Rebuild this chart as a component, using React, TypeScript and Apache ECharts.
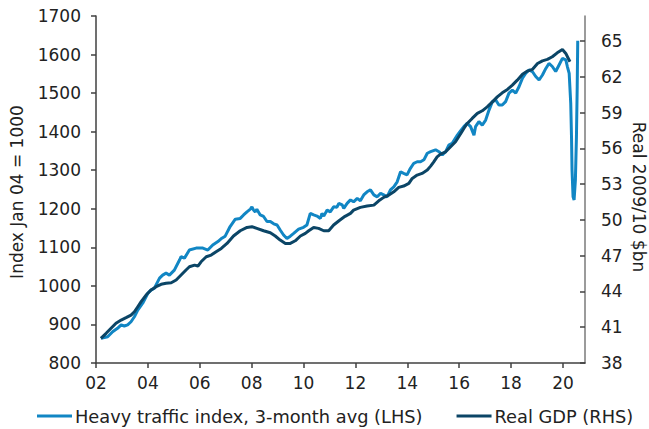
import { useEffect, useRef } from "react";
import * as echarts from "echarts";

const trafficYears = [
  2002.19, 2002.45, 2002.64, 2002.83, 2002.97, 2003.09, 2003.22, 2003.35, 2003.48, 2003.61, 2003.8,
  2004.0, 2004.12, 2004.25, 2004.38, 2004.45, 2004.57, 2004.7, 2004.83, 2005.02, 2005.22, 2005.28,
  2005.41, 2005.6, 2005.86, 2006.12, 2006.31, 2006.5, 2006.7, 2006.82, 2006.98, 2007.17, 2007.37,
  2007.56, 2007.69, 2007.82, 2007.95, 2008.01, 2008.07, 2008.14, 2008.2, 2008.33, 2008.46, 2008.59,
  2008.72, 2008.85, 2008.98, 2009.1, 2009.23, 2009.36, 2009.49, 2009.62, 2009.81, 2010.0, 2010.13,
  2010.26, 2010.39, 2010.52, 2010.65, 2010.71, 2010.78, 2010.91, 2011.03, 2011.16, 2011.29, 2011.36,
  2011.49, 2011.55, 2011.68, 2011.81, 2011.93, 2012.07, 2012.19, 2012.32, 2012.45, 2012.58, 2012.71,
  2012.84, 2012.97, 2013.09, 2013.22, 2013.35, 2013.48, 2013.61, 2013.74, 2013.86, 2013.99, 2014.12,
  2014.25, 2014.38, 2014.51, 2014.64, 2014.77, 2014.9, 2015.09, 2015.22, 2015.35, 2015.48, 2015.6,
  2015.73, 2015.93, 2016.05, 2016.18, 2016.31, 2016.44, 2016.57, 2016.63, 2016.76, 2016.89, 2017.02,
  2017.15, 2017.28, 2017.41, 2017.53, 2017.66, 2017.79, 2017.92, 2018.05, 2018.18, 2018.31, 2018.44,
  2018.56, 2018.69, 2018.82, 2018.95, 2019.08, 2019.21, 2019.34, 2019.46, 2019.59, 2019.72, 2019.85,
  2019.98, 2020.11, 2020.17, 2020.24, 2020.3, 2020.33, 2020.35, 2020.39, 2020.43, 2020.48, 2020.52,
  2020.55, 2020.57,
];
const trafficValues = [
  864, 868, 881, 890, 899, 896, 899, 907, 920, 937, 955,
  981, 989, 994, 1011, 1020, 1028, 1033, 1028, 1041, 1067, 1076,
  1072, 1093, 1098, 1098, 1093, 1106, 1115, 1122, 1129, 1154, 1173,
  1175, 1184, 1192, 1199, 1205, 1197, 1192, 1199, 1184, 1180, 1167,
  1167, 1161, 1158, 1145, 1132, 1123, 1129, 1136, 1147, 1152, 1158,
  1188, 1184, 1181, 1175, 1188, 1181, 1197, 1192, 1205, 1204, 1214,
  1210, 1201, 1214, 1223, 1218, 1227, 1221, 1236, 1244, 1249, 1236,
  1231, 1240, 1236, 1231, 1249, 1257, 1270, 1296, 1292, 1288, 1305,
  1318, 1322, 1322, 1327, 1344, 1348, 1353, 1348, 1340, 1348, 1365,
  1370, 1391, 1402, 1413, 1422, 1413, 1391, 1413, 1426, 1417, 1430,
  1456, 1478, 1482, 1469, 1469, 1478, 1500, 1508, 1500, 1517, 1539,
  1551, 1560, 1556, 1543, 1534, 1547, 1564, 1577, 1569, 1556, 1573,
  1590, 1586, 1569, 1551, 1474, 1387, 1301, 1231, 1223, 1275, 1387,
  1517, 1636,
];

const gdpYears = [
  2002.19, 2002.39, 2002.58, 2002.77, 2002.97, 2003.16, 2003.35, 2003.48, 2003.61, 2003.74, 2003.93,
  2004.12, 2004.32, 2004.51, 2004.7, 2004.9, 2005.09, 2005.28, 2005.47, 2005.6, 2005.8, 2005.93,
  2006.05, 2006.25, 2006.44, 2006.63, 2006.83, 2007.05, 2007.3, 2007.56, 2007.82, 2008.01, 2008.2,
  2008.46, 2008.72, 2008.91, 2009.1, 2009.3, 2009.49, 2009.68, 2009.88, 2010.07, 2010.2, 2010.39,
  2010.58, 2010.78, 2010.97, 2011.16, 2011.38, 2011.6, 2011.81, 2011.93, 2012.19, 2012.45, 2012.71,
  2012.9, 2013.09, 2013.29, 2013.48, 2013.67, 2013.86, 2014.06, 2014.19, 2014.38, 2014.57, 2014.77,
  2014.9, 2015.02, 2015.15, 2015.28, 2015.48, 2015.67, 2015.86, 2016.05, 2016.18, 2016.31, 2016.5,
  2016.7, 2016.89, 2017.08, 2017.28, 2017.47, 2017.66, 2017.86, 2018.05, 2018.24, 2018.44, 2018.63,
  2018.82, 2019.02, 2019.21, 2019.4, 2019.59, 2019.78, 2019.98, 2020.11, 2020.27,
];
const gdpValues = [
  40.07, 40.49, 40.91, 41.33, 41.6, 41.8, 42.02, 42.3, 42.72, 43.14, 43.7,
  44.12, 44.4, 44.6, 44.68, 44.73, 44.96, 45.38, 45.8, 46.07, 46.21, 46.13,
  46.49, 46.91, 47.05, 47.33, 47.61, 48.03, 48.65, 49.09, 49.37, 49.43, 49.29,
  49.09, 48.92, 48.65, 48.31, 48.03, 48.03, 48.25, 48.65, 48.87, 49.09, 49.37,
  49.29, 49.09, 49.1, 49.57, 49.95, 50.3, 50.55, 50.82, 51.05, 51.16, 51.24,
  51.6, 51.89, 52.08, 52.36, 52.73, 52.84, 53.06, 53.48, 53.76, 53.9, 54.18,
  54.51, 54.87, 55.29, 55.52, 55.71, 56.13, 56.55, 57.2, 57.67, 58.09, 58.51,
  58.93, 59.15, 59.48, 59.9, 60.32, 60.66, 60.94, 61.3, 61.72, 62.22, 62.48,
  62.62, 63.12, 63.34, 63.46, 63.68, 64.01, 64.29, 63.96, 63.26,
];

const xTickYears = [2002, 2004, 2006, 2008, 2010, 2012, 2014, 2016, 2018, 2020];
const leftTicks = [800, 900, 1000, 1100, 1200, 1300, 1400, 1500, 1600, 1700];
const rightTicks = [38, 41, 44, 47, 50, 53, 56, 59, 62, 65];

const trafficName = "Heavy traffic index, 3-month avg (LHS)";
const gdpName = "Real GDP (RHS)";

const FONT = "DejaVu Sans, Verdana, sans-serif";
const TEXT = "#222222";
const LIGHT = "#1186c4";
const DARK = "#0b4566";

export default function App() {
  const ref = useRef<HTMLDivElement>(null);
  useEffect(() => {
    if (!ref.current) return;
    const chart = echarts.init(ref.current, undefined, { renderer: "svg" });
    const trafficData = trafficYears.map((y, i) => [y, trafficValues[i]]);
    const gdpData = gdpYears.map((y, i) => [y, gdpValues[i]]);
    chart.setOption({
      animation: false,
      backgroundColor: "#ffffff",
      textStyle: { fontFamily: FONT },
      grid: { left: 96, right: 64, top: 16, bottom: 66, containLabel: false },
      legend: {
        left: 37,
        top: 407,
        padding: 0,
        icon: "rect",
        itemWidth: 35,
        itemHeight: 3,
        itemGap: 34,
        textStyle: { fontFamily: FONT, fontSize: 17.8, color: TEXT, padding: [0, 0, 0, -2] },
        data: [trafficName, gdpName],
      },
      xAxis: {
        type: "value",
        min: 2002,
        max: 2020.85,
        interval: 2,
        splitLine: { show: false },
        axisLine: { show: true, onZero: false, lineStyle: { color: "#404040", width: 1.5 } },
        axisTick: { show: true, length: 5, customValues: xTickYears, lineStyle: { color: "#404040", width: 1.5 } },
        axisLabel: {
          customValues: xTickYears,
          margin: 11,
          fontFamily: FONT,
          fontSize: 17,
          color: TEXT,
          formatter: (v: number) => String(Math.round(v) % 100).padStart(2, "0"),
        },
      },
      yAxis: [
        {
          type: "value",
          min: 800,
          max: 1700,
          interval: 100,
          position: "left",
          splitLine: { show: false },
          axisLine: { show: true, lineStyle: { color: "#404040", width: 1.5 } },
          axisTick: { show: true, length: 5, customValues: leftTicks, lineStyle: { color: "#404040", width: 1.5 } },
          axisLabel: {
            customValues: leftTicks,
            margin: 15,
            fontFamily: FONT,
            fontSize: 17,
            color: TEXT,
            formatter: (v: number) => String(Math.round(v)),
          },
        },
        {
          type: "value",
          min: 38,
          max: 67.1,
          interval: 3,
          position: "right",
          splitLine: { show: false },
          axisLine: { show: true, lineStyle: { color: "#7a7a7a", width: 1.5 } },
          axisTick: { show: true, inside: true, length: 5, customValues: rightTicks, lineStyle: { color: "#404040", width: 1.5 } },
          axisLabel: {
            customValues: rightTicks,
            margin: 16,
            fontFamily: FONT,
            fontSize: 17,
            color: TEXT,
            formatter: (v: number) => String(Math.round(v)),
          },
        },
      ],
      graphic: [
        {
          type: "text",
          x: 17,
          y: 192,
          rotation: Math.PI / 2,
          style: { text: "Index Jan 04 = 1000", fontFamily: FONT, fontSize: 17, fill: TEXT, align: "center", verticalAlign: "middle" },
        },
        {
          type: "text",
          x: 639,
          y: 197,
          rotation: -Math.PI / 2,
          style: { text: "Real 2009/10 $bn", fontFamily: FONT, fontSize: 17, fill: TEXT, align: "center", verticalAlign: "middle" },
        },
      ],
      series: [
        {
          name: trafficName,
          type: "line",
          yAxisIndex: 0,
          data: trafficData,
          showSymbol: false,
          symbol: "none",
          lineStyle: { color: LIGHT, width: 3 },
          itemStyle: { color: LIGHT },
          z: 2,
        },
        {
          name: gdpName,
          type: "line",
          yAxisIndex: 1,
          data: gdpData,
          showSymbol: false,
          symbol: "none",
          lineStyle: { color: DARK, width: 3 },
          itemStyle: { color: DARK },
          z: 3,
        },
      ],
    });
    return () => chart.dispose();
  }, []);
  return <div ref={ref} style={{ position: "fixed", left: 0, top: 0, width: 649, height: 429 }} />;
}
